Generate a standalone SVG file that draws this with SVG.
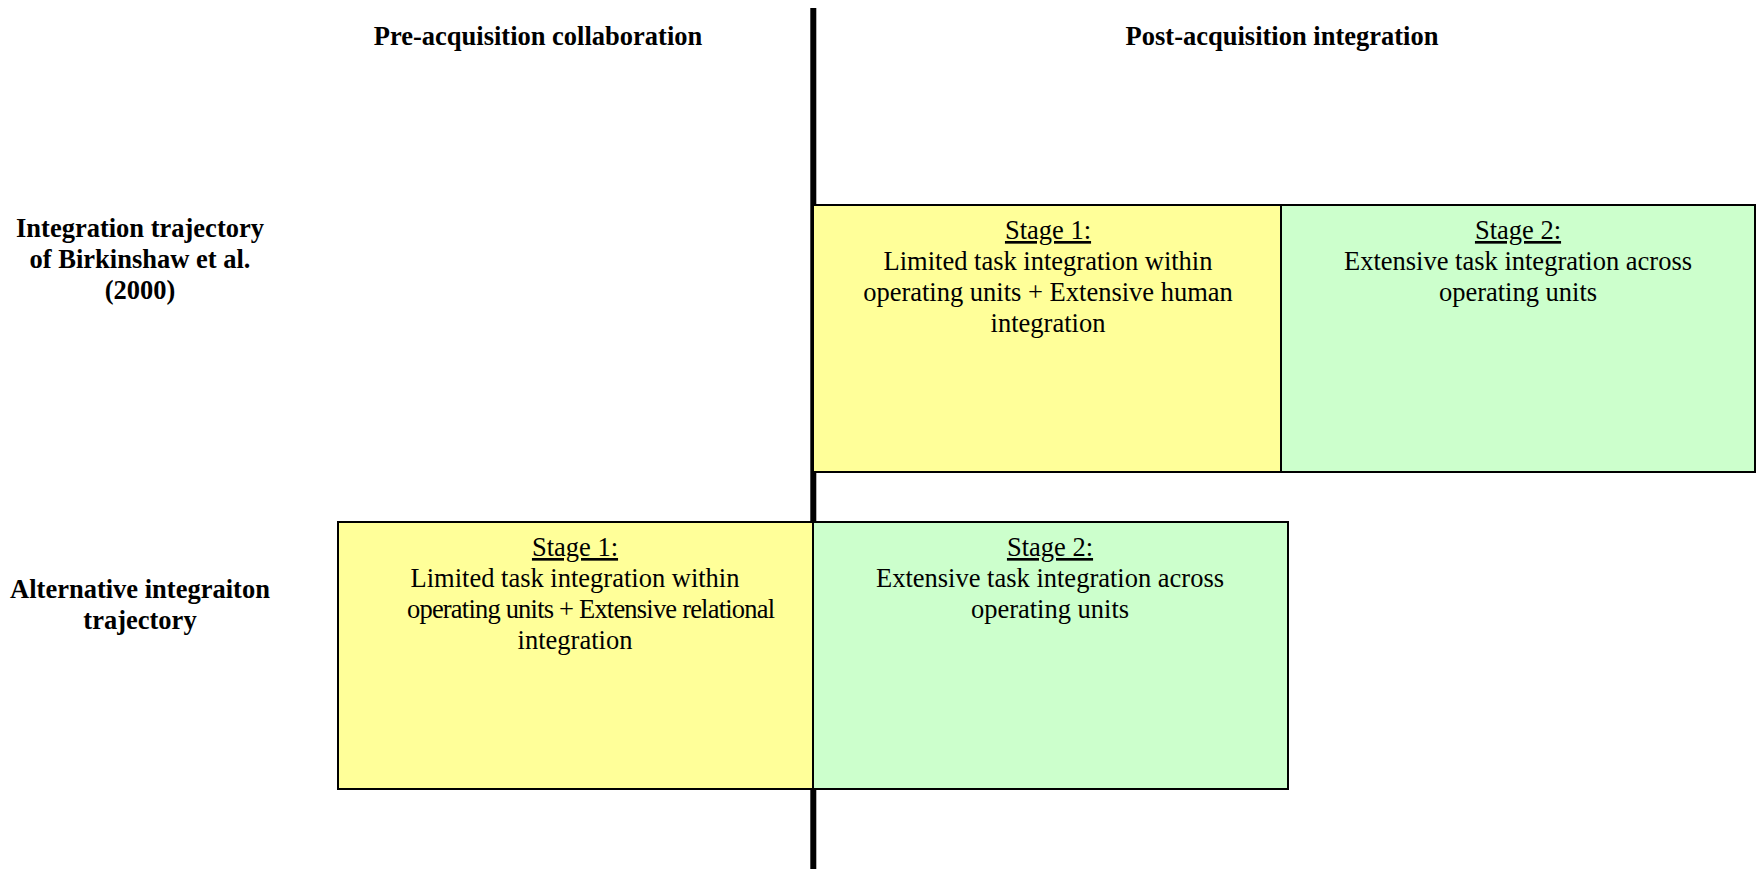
<svg xmlns="http://www.w3.org/2000/svg" width="1756" height="869" viewBox="0 0 1756 869">
<style>
.h{font-family:"Liberation Serif","Times New Roman",serif;font-weight:bold;font-size:26.5px;fill:#000;text-anchor:middle}
.t{font-family:"Liberation Serif","Times New Roman",serif;font-size:26.5px;fill:#000;text-anchor:middle}
.u{text-decoration:underline}
.y{fill:#FFFF99;stroke:#000;stroke-width:2}
.g{fill:#CCFFCC;stroke:#000;stroke-width:2}
</style>
<rect width="1756" height="869" fill="#fff"/>
<g id="connectors">
<line x1="813.3" y1="8" x2="813.3" y2="869" stroke="#000" stroke-width="6"/>
</g>
<g id="headings">
<text class="h" x="538" y="45">Pre-acquisition collaboration</text>
<text class="h" x="1282" y="45">Post-acquisition integration</text>
</g>
<g id="label-birkinshaw">
<text class="h" x="140" y="237">Integration trajectory</text>
<text class="h" x="140" y="268">of Birkinshaw et al.</text>
<text class="h" x="140" y="299">(2000)</text>
</g>
<g id="label-alternative">
<text class="h" x="140" y="598">Alternative integraiton</text>
<text class="h" x="140" y="629">trajectory</text>
</g>
<g id="top-stage1">
<rect class="y" x="813" y="205" width="468" height="267"/>
<text class="t" x="1048" y="239"><tspan class="u">Stage 1:</tspan></text>
<text class="t" x="1048" y="270">Limited task integration within</text>
<text class="t" x="1048" y="301">operating units + Extensive human</text>
<text class="t" x="1048" y="332">integration</text>
</g>
<g id="top-stage2">
<rect class="g" x="1281" y="205" width="474" height="267"/>
<text class="t" x="1518" y="239"><tspan class="u">Stage 2:</tspan></text>
<text class="t" x="1518" y="270">Extensive task integration across</text>
<text class="t" x="1518" y="301">operating units</text>
</g>
<g id="bottom-stage1">
<rect class="y" x="338" y="522" width="475" height="267"/>
<text class="t" x="575" y="556"><tspan class="u">Stage 1:</tspan></text>
<text class="t" x="575" y="587">Limited task integration within</text>
<text class="t" x="591" y="618" textLength="368" lengthAdjust="spacing">operating units + Extensive relational</text>
<text class="t" x="575" y="649">integration</text>
</g>
<g id="bottom-stage2">
<rect class="g" x="813" y="522" width="475" height="267"/>
<text class="t" x="1050" y="556"><tspan class="u">Stage 2:</tspan></text>
<text class="t" x="1050" y="587">Extensive task integration across</text>
<text class="t" x="1050" y="618">operating units</text>
</g>
</svg>
